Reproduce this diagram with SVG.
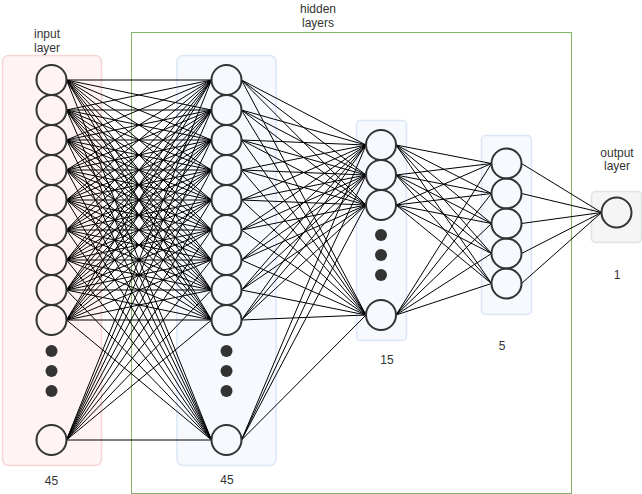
<svg xmlns="http://www.w3.org/2000/svg" width="642" height="494" viewBox="0 0 642 494">
<style>
.lbl{font-family:"Liberation Sans",Arial,sans-serif;font-size:12px;fill:#333;text-anchor:middle}
.n{fill:none;stroke:#333;stroke-width:2}
.d{fill:#333}
.c{fill:none;stroke:#000;stroke-width:1}
.pink{fill:#fff3f3;stroke:#f6d6d4;stroke-width:1.5}
.blue{fill:#f6f9fe;stroke:#dbe6f7;stroke-width:1.5}
.gray{fill:#f5f5f5;stroke:#e2e2e2;stroke-width:1.5}
</style>
<rect x="131.5" y="32.5" width="440" height="461" fill="#fff" stroke="#82b366" stroke-width="1"/>
<g id="boxes">
<rect class="pink" x="2.5" y="55.5" width="99" height="410" rx="6"/>
<rect class="blue" x="177" y="55.5" width="99" height="410" rx="6"/>
<rect class="blue" x="356.5" y="120.5" width="50" height="220" rx="4"/>
<rect class="blue" x="481.5" y="135.5" width="50" height="179" rx="4"/>
<rect class="gray" x="591.5" y="191.5" width="50" height="51" rx="4"/>
</g>
<g id="connectors" class="c">
<path d="M66.5 80L211.5 80M66.5 80L211.5 110M66.5 80L211.5 140M66.5 80L211.5 170M66.5 80L211.5 200M66.5 80L211.5 230M66.5 80L211.5 260M66.5 80L211.5 290M66.5 80L211.5 320M66.5 80L211.5 440"/>
<path d="M66.5 110L211.5 80M66.5 110L211.5 110M66.5 110L211.5 140M66.5 110L211.5 170M66.5 110L211.5 200M66.5 110L211.5 230M66.5 110L211.5 260M66.5 110L211.5 290M66.5 110L211.5 320M66.5 110L211.5 440"/>
<path d="M66.5 140L211.5 80M66.5 140L211.5 110M66.5 140L211.5 140M66.5 140L211.5 170M66.5 140L211.5 200M66.5 140L211.5 230M66.5 140L211.5 260M66.5 140L211.5 290M66.5 140L211.5 320M66.5 140L211.5 440"/>
<path d="M66.5 170L211.5 80M66.5 170L211.5 110M66.5 170L211.5 140M66.5 170L211.5 170M66.5 170L211.5 200M66.5 170L211.5 230M66.5 170L211.5 260M66.5 170L211.5 290M66.5 170L211.5 320M66.5 170L211.5 440"/>
<path d="M66.5 200L211.5 80M66.5 200L211.5 110M66.5 200L211.5 140M66.5 200L211.5 170M66.5 200L211.5 200M66.5 200L211.5 230M66.5 200L211.5 260M66.5 200L211.5 290M66.5 200L211.5 320M66.5 200L211.5 440"/>
<path d="M66.5 230L211.5 80M66.5 230L211.5 110M66.5 230L211.5 140M66.5 230L211.5 170M66.5 230L211.5 200M66.5 230L211.5 230M66.5 230L211.5 260M66.5 230L211.5 290M66.5 230L211.5 320M66.5 230L211.5 440"/>
<path d="M66.5 260L211.5 80M66.5 260L211.5 110M66.5 260L211.5 140M66.5 260L211.5 170M66.5 260L211.5 200M66.5 260L211.5 230M66.5 260L211.5 260M66.5 260L211.5 290M66.5 260L211.5 320M66.5 260L211.5 440"/>
<path d="M66.5 290L211.5 80M66.5 290L211.5 110M66.5 290L211.5 140M66.5 290L211.5 170M66.5 290L211.5 200M66.5 290L211.5 230M66.5 290L211.5 260M66.5 290L211.5 290M66.5 290L211.5 320M66.5 290L211.5 440"/>
<path d="M66.5 320L211.5 80M66.5 320L211.5 110M66.5 320L211.5 140M66.5 320L211.5 170M66.5 320L211.5 200M66.5 320L211.5 230M66.5 320L211.5 260M66.5 320L211.5 290M66.5 320L211.5 320M66.5 320L211.5 440"/>
<path d="M66.5 440L211.5 80M66.5 440L211.5 110M66.5 440L211.5 140M66.5 440L211.5 170M66.5 440L211.5 200M66.5 440L211.5 230M66.5 440L211.5 260M66.5 440L211.5 290M66.5 440L211.5 320M66.5 440L211.5 440"/>
<path d="M241.5 80L366 145M241.5 80L366 175M241.5 80L366 205M241.5 80L366 315M241.5 110L366 145M241.5 110L366 175M241.5 110L366 205M241.5 110L366 315M241.5 140L366 145M241.5 140L366 175M241.5 140L366 205M241.5 140L366 315M241.5 170L366 145M241.5 170L366 175M241.5 170L366 205M241.5 170L366 315M241.5 200L366 145M241.5 200L366 175M241.5 200L366 205M241.5 200L366 315"/>
<path d="M241.5 230L366 145M241.5 230L366 175M241.5 230L366 205M241.5 230L366 315M241.5 260L366 145M241.5 260L366 175M241.5 260L366 205M241.5 260L366 315M241.5 290L366 145M241.5 290L366 175M241.5 290L366 205M241.5 290L366 315M241.5 320L366 145M241.5 320L366 175M241.5 320L366 205M241.5 320L366 315M241.5 440L366 145M241.5 440L366 175M241.5 440L366 205M241.5 440L366 315"/>
<path d="M396 145L491.5 163.5M396 145L491.5 193.5M396 145L491.5 223.5M396 145L491.5 253.5M396 145L491.5 283.5M396 175L491.5 163.5M396 175L491.5 193.5M396 175L491.5 223.5M396 175L491.5 253.5M396 175L491.5 283.5M396 205L491.5 163.5M396 205L491.5 193.5M396 205L491.5 223.5M396 205L491.5 253.5M396 205L491.5 283.5M396 315L491.5 163.5M396 315L491.5 193.5M396 315L491.5 223.5M396 315L491.5 253.5M396 315L491.5 283.5"/>
<path d="M521.5 163.5L601.5 212.5M521.5 193.5L601.5 212.5M521.5 223.5L601.5 212.5M521.5 253.5L601.5 212.5M521.5 283.5L601.5 212.5"/>
</g>
<g id="input-layer">
<circle class="n" cx="51.5" cy="80" r="15"/><circle class="n" cx="51.5" cy="110" r="15"/><circle class="n" cx="51.5" cy="140" r="15"/><circle class="n" cx="51.5" cy="170" r="15"/><circle class="n" cx="51.5" cy="200" r="15"/><circle class="n" cx="51.5" cy="230" r="15"/><circle class="n" cx="51.5" cy="260" r="15"/><circle class="n" cx="51.5" cy="290" r="15"/><circle class="n" cx="51.5" cy="320" r="15"/><circle class="n" cx="51.5" cy="440" r="15"/>
<circle class="d" cx="51.5" cy="351" r="6"/><circle class="d" cx="51.5" cy="371" r="6"/><circle class="d" cx="51.5" cy="391" r="6"/>
<text class="lbl" x="47" y="38">input</text><text class="lbl" x="47" y="52">layer</text>
<text class="lbl" x="51.5" y="485">45</text>
</g>
<g id="hidden-layer-1">
<circle class="n" cx="226.5" cy="80" r="15"/><circle class="n" cx="226.5" cy="110" r="15"/><circle class="n" cx="226.5" cy="140" r="15"/><circle class="n" cx="226.5" cy="170" r="15"/><circle class="n" cx="226.5" cy="200" r="15"/><circle class="n" cx="226.5" cy="230" r="15"/><circle class="n" cx="226.5" cy="260" r="15"/><circle class="n" cx="226.5" cy="290" r="15"/><circle class="n" cx="226.5" cy="320" r="15"/><circle class="n" cx="226.5" cy="440" r="15"/>
<circle class="d" cx="226.5" cy="351" r="6"/><circle class="d" cx="226.5" cy="371" r="6"/><circle class="d" cx="226.5" cy="391" r="6"/>
<text class="lbl" x="227" y="484">45</text>
</g>
<g id="hidden-layer-2">
<circle class="n" cx="381" cy="145" r="15"/><circle class="n" cx="381" cy="175" r="15"/><circle class="n" cx="381" cy="205" r="15"/><circle class="n" cx="381" cy="315" r="15"/>
<circle class="d" cx="381" cy="235" r="6"/><circle class="d" cx="381" cy="255" r="6"/><circle class="d" cx="381" cy="275" r="6"/>
<text class="lbl" x="387" y="364">15</text>
</g>
<g id="hidden-layer-3">
<circle class="n" cx="506.5" cy="163.5" r="15"/><circle class="n" cx="506.5" cy="193.5" r="15"/><circle class="n" cx="506.5" cy="223.5" r="15"/><circle class="n" cx="506.5" cy="253.5" r="15"/><circle class="n" cx="506.5" cy="283.5" r="15"/>
<text class="lbl" x="502" y="350">5</text>
</g>
<g id="output-layer">
<circle class="n" cx="616.5" cy="212.5" r="15"/>
<text class="lbl" x="617" y="157">output</text><text class="lbl" x="617" y="170">layer</text>
<text class="lbl" x="617" y="279">1</text>
</g>
<g id="hidden-label">
<text class="lbl" x="318" y="13">hidden</text><text class="lbl" x="318" y="27">layers</text>
</g>
</svg>
